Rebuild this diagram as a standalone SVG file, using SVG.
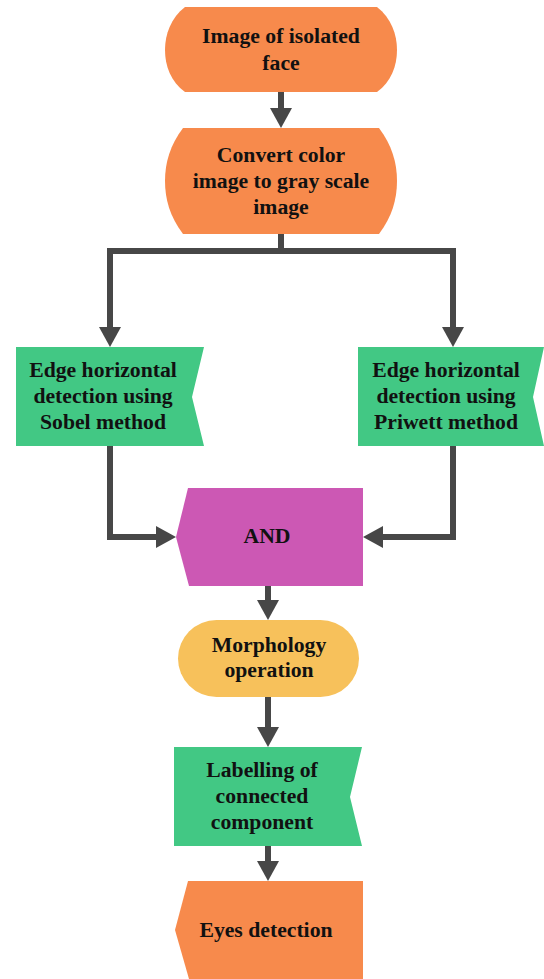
<svg xmlns="http://www.w3.org/2000/svg" width="544" height="979" viewBox="0 0 544 979">
<style>
.t{font-family:"Liberation Serif","Times New Roman",serif;font-weight:bold;font-size:21.7px;fill:#111;text-anchor:middle}
.c{fill:none;stroke:#474747;stroke-width:6;stroke-linejoin:miter}
.or{fill:#F78A4C}.gr{fill:#42C884}.mg{fill:#CC58B4}.ye{fill:#F7C15B}
</style>
<defs>
<marker id="ah" viewBox="0 0 20 22" refX="10" refY="11" markerWidth="20" markerHeight="22" markerUnits="userSpaceOnUse" orient="auto">
<path d="M0,0 L20,11 L0,22 Z" fill="#474747"/>
</marker>
</defs>
<g id="connectors">
<path class="c" d="M281,92 V118" marker-end="url(#ah)"/>
<path class="c" d="M281,234 V251 H110 V337" marker-end="url(#ah)"/>
<path class="c" d="M281,251 H453 V337" marker-end="url(#ah)"/>
<path class="c" d="M110,446 V537 H166" marker-end="url(#ah)"/>
<path class="c" d="M453,446 V537 H373" marker-end="url(#ah)"/>
<path class="c" d="M268,586 V610" marker-end="url(#ah)"/>
<path class="c" d="M268,697 V737" marker-end="url(#ah)"/>
<path class="c" d="M268,846 V871" marker-end="url(#ah)"/>
</g>
<g id="n1">
<path class="or" d="M185,7 H377 C391,18 397,34 397,50 C397,66 391,82 377,92 H185 C171,82 165,66 165,50 C165,34 171,18 185,7 Z"/>
<text class="t" x="281" y="43">Image of isolated</text>
<text class="t" x="281" y="70">face</text>
</g>
<g id="n2">
<path class="or" d="M183,128 H379 C392,145 397,163 397,181 C397,199 392,217 379,234 H183 C170,217 165,199 165,181 C165,163 170,145 183,128 Z"/>
<text class="t" x="281" y="162">Convert color</text>
<text class="t" x="281" y="188">image to gray scale</text>
<text class="t" x="281" y="214">image</text>
</g>
<g id="n3">
<path class="gr" d="M16,347 H204 L192,397 L204,446 H16 Z"/>
<text class="t" x="103" y="377">Edge horizontal</text>
<text class="t" x="103" y="403">detection using</text>
<text class="t" x="103" y="429">Sobel method</text>
</g>
<g id="n4">
<path class="gr" d="M358,347 H544 L533,397 L544,446 H358 Z"/>
<text class="t" x="446" y="377">Edge horizontal</text>
<text class="t" x="446" y="403">detection using</text>
<text class="t" x="446" y="429">Priwett method</text>
</g>
<g id="n5">
<path class="mg" d="M188,488 H363 V586 H189 L176,537 Z"/>
<text class="t" x="267" y="543">AND</text>
</g>
<g id="n6">
<rect class="ye" x="178" y="620" width="181" height="77" rx="38.5"/>
<text class="t" x="269" y="652">Morphology</text>
<text class="t" x="269" y="677">operation</text>
</g>
<g id="n7">
<path class="gr" d="M174,747 H362 L350,797 L362,846 H174 Z"/>
<text class="t" x="262" y="777">Labelling of</text>
<text class="t" x="262" y="803">connected</text>
<text class="t" x="262" y="829">component</text>
</g>
<g id="n8">
<path class="or" d="M188,881 H363 V979 H189 L175,930 Z"/>
<text class="t" x="266" y="937">Eyes detection</text>
</g>
</svg>
